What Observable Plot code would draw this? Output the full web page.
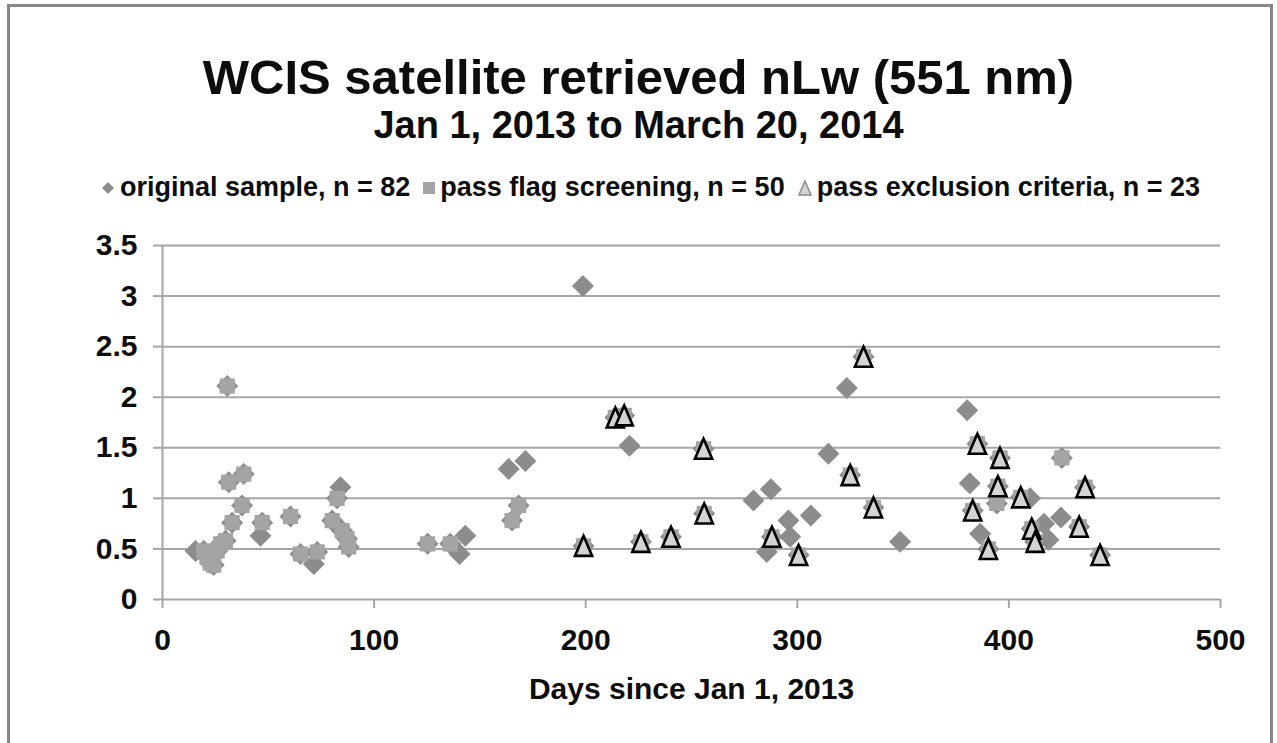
<!DOCTYPE html>
<html><head><meta charset="utf-8">
<script src="https://cdn.jsdelivr.net/npm/d3@7"></script>
<script src="https://cdn.jsdelivr.net/npm/@observablehq/plot@0.6"></script>
<style>
html,body{margin:0;padding:0;background:#fff;}
body{width:1277px;height:743px;overflow:hidden;position:relative;font-family:"Liberation Sans",Arial,sans-serif;color:#0d0d0d;}
#head{position:relative;height:215px;}
.t{position:absolute;left:0;width:1277px;text-align:center;font-weight:bold;line-height:1;white-space:nowrap;}
#title{top:53px;font-size:49px;}
#subtitle{top:106px;font-size:38px;}
#legend{position:absolute;top:174px;left:0;width:1300px;display:flex;justify-content:center;align-items:center;font-weight:bold;font-size:27px;line-height:1;gap:12px;white-space:nowrap;}
#legend .item{display:flex;align-items:center;gap:4px;}
#legend svg{display:block;}
#chart svg{display:block;}
#frame{position:absolute;left:7px;top:4px;width:1260px;height:800px;border:3px solid #878787;pointer-events:none;}
</style></head>
<body>
<div id="head">
  <div class="t" id="title"></div>
  <div class="t" id="subtitle"></div>
  <div id="legend"></div>
</div>
<div id="chart"></div>
<div id="frame"></div>
<script>
// ---- texts ----
const titleText = "WCIS satellite retrieved nLw (551 nm)";
const subtitleText = "Jan 1, 2013 to March 20, 2014";
const xLabel = "Days since Jan 1, 2013";
const seriesNames = ["original sample, n = 82", "pass flag screening, n = 50", "pass exclusion criteria, n = 23"];
const xTicks = [0, 100, 200, 300, 400, 500];
const yTicks = [0, 0.5, 1, 1.5, 2, 2.5, 3, 3.5];

// ---- data: original sample points that did not pass flag screening ----
const failDays = [15.6, 46.3, 71.5, 84.1, 140.4, 143.1, 163.6, 171.5, 198.7, 220.7, 323.4, 314.7, 279.3, 287.5, 295.8, 306.4, 296.6, 285.6, 348.6, 380.3, 381.5, 386.4, 410.0, 416.6, 424.6, 418.7];
const failVals = [0.48, 0.63, 0.35, 1.11, 0.45, 0.63, 1.29, 1.37, 3.10, 1.52, 2.09, 1.44, 0.98, 1.09, 0.78, 0.83, 0.62, 0.47, 0.57, 1.87, 1.15, 0.65, 1.00, 0.75, 0.81, 0.59];
// ---- points that passed flag screening but not exclusion criteria ----
const flagDays = [30.6, 31.3, 38.4, 37.6, 32.9, 29.8, 25.8, 21.1, 24.2, 19.5, 27.5, 22.5, 47.1, 60.5, 65.2, 73.1, 82.5, 80.2, 84.9, 87.2, 88.0, 125.3, 136.0, 168.3, 165.2, 394.3, 425.0];
const flagVals = [2.11, 1.16, 1.24, 0.93, 0.76, 0.58, 0.48, 0.42, 0.34, 0.48, 0.55, 0.36, 0.76, 0.82, 0.45, 0.47, 1.00, 0.78, 0.68, 0.60, 0.52, 0.55, 0.55, 0.93, 0.78, 0.95, 1.40];
// ---- points that passed exclusion criteria ----
const exclDays = [199.0, 214.0, 218.2, 226.1, 240.3, 255.7, 256.0, 331.3, 325.0, 336.0, 288.0, 300.6, 385.1, 395.8, 394.8, 382.9, 390.3, 436.0, 405.6, 410.8, 412.4, 433.2, 443.1];
const exclVals = [0.53, 1.80, 1.82, 0.57, 0.62, 1.49, 0.85, 2.40, 1.23, 0.91, 0.62, 0.44, 1.54, 1.40, 1.12, 0.88, 0.50, 1.11, 1.01, 0.70, 0.57, 0.72, 0.44];

const colDiamond = "#8c8c8c", colSquare = "#a4a4a4", colTri = "#d4d4d4";

const zip = (ds, vs) => ds.map((d, i) => ({day: d, val: vs[i]}));
const fail = zip(failDays, failVals), flagOnly = zip(flagDays, flagVals), excl = zip(exclDays, exclVals);
const original = [...fail, ...flagOnly, ...excl];
const passFlag = [...flagOnly, ...excl];

// custom symbols (size = pi r^2)
const rad = s => Math.sqrt(s / Math.PI);
const diamondSym = {draw(c, s){const r = rad(s); c.moveTo(0,-r); c.lineTo(r,0); c.lineTo(0,r); c.lineTo(-r,0); c.closePath();}};
const squareSym = {draw(c, s){const r = rad(s); c.moveTo(-r,-r); c.lineTo(r,-r); c.lineTo(r,r); c.lineTo(-r,r); c.closePath();}};
const triSym = {draw(c, s){const r = rad(s), w = r*0.86; c.moveTo(0,-r); c.lineTo(w,r); c.lineTo(-w,r); c.closePath();}};

document.getElementById("title").textContent = titleText;
document.getElementById("subtitle").textContent = subtitleText;

// legend
const lg = document.getElementById("legend");
const legendMarks = [
  `<svg width="16" height="16"><path d="M8 2 L14 8 L8 14 L2 8 Z" fill="${colDiamond}"/></svg>`,
  `<svg width="14" height="16"><rect x="1" y="2" width="12" height="12" fill="${colSquare}"/></svg>`,
  `<svg width="16" height="18"><path d="M8 2 L14 16 L2 16 Z" fill="${colTri}" stroke="${colDiamond}" stroke-width="1.5"/></svg>`
];
seriesNames.forEach((n, i) => {
  const it = document.createElement("div"); it.className = "item";
  it.innerHTML = legendMarks[i] + `<span>${n}</span>`;
  lg.appendChild(it);
});

const font = {fontFamily: "Liberation Sans, Arial, sans-serif", fontWeight: "bold"};
const chart = Plot.plot({
  width: 1277, height: 528,
  marginTop: 30, marginBottom: 144, marginLeft: 162, marginRight: 57,
  style: {background: "transparent", color: "#0d0d0d", fontFamily: "Liberation Sans, Arial, sans-serif"},
  x: {domain: [0, 500]},
  y: {domain: [0, 3.5]},
  marks: [
    Plot.gridY(yTicks, {stroke: "#a6a6a6", strokeOpacity: 1, strokeWidth: 2}),
    Plot.axisY(yTicks, {tickFormat: d => String(d), tickSize: 9, tickPadding: 16, stroke: "#a6a6a6", strokeWidth: 2, fill: "#0d0d0d", fontSize: 30, ...font, label: null}),
    Plot.axisX(xTicks, {tickFormat: d => String(d), tickSize: 9, tickPadding: 20, stroke: "#a6a6a6", strokeWidth: 2, fill: "#0d0d0d", fontSize: 30, ...font, label: null}),
    Plot.ruleX([0], {stroke: "#a6a6a6", strokeWidth: 2}),
    Plot.text([xLabel], {frameAnchor: "bottom", dy: 99, fontSize: 30, ...font, fill: "#0d0d0d"}),
    Plot.dot(original, {x: "day", y: "val", symbol: diamondSym, r: 11, fill: colDiamond, stroke: "none"}),
    Plot.dot(passFlag, {x: "day", y: "val", symbol: squareSym, r: 7.6, fill: colSquare, stroke: "none"}),
    Plot.dot(excl, {x: "day", y: "val", symbol: triSym, r: 10, fill: colTri, stroke: "#000", strokeWidth: 2.6, strokeLinejoin: "miter"})
  ]
});
document.getElementById("chart").appendChild(chart);
</script>
</body></html>
